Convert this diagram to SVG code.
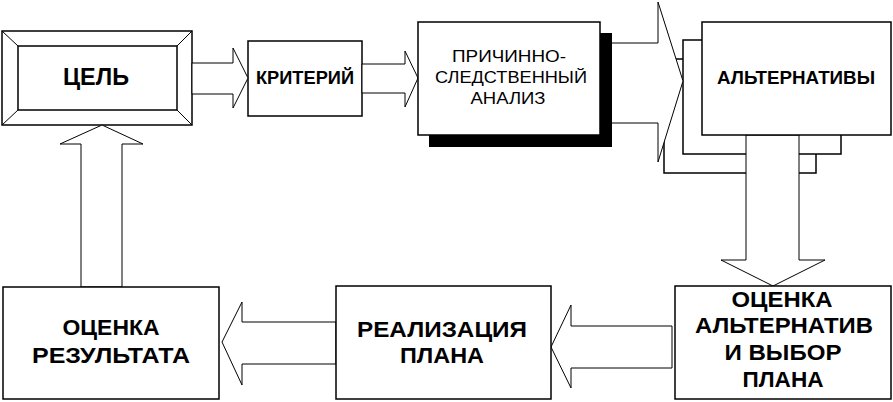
<svg xmlns="http://www.w3.org/2000/svg" width="893" height="402" viewBox="0 0 893 402">
<style>
.box{fill:#fff;stroke:#000;stroke-width:1.5}
.arr{fill:#fff;stroke:#000;stroke-width:1}
.ln{fill:none;stroke:#000;stroke-width:1}
text{font-family:"Liberation Sans",Arial,sans-serif;fill:#000;text-anchor:middle}
.b{font-weight:bold}
</style>
<rect width="893" height="402" fill="#fff"/>
<g id="node-cel">
<rect class="box" x="2" y="31" width="190" height="94"/>
<rect class="box" x="18" y="46" width="159" height="64"/>
<path class="ln" d="M2,31L18,46M192,31L177,46M2,125L18,110M192,125L177,110"/>
<text class="b" x="96" y="85" font-size="23" textLength="66" lengthAdjust="spacingAndGlyphs">ЦЕЛЬ</text>
</g>
<g id="node-kriteriy">
<rect class="box" x="248" y="41" width="114" height="75"/>
<text class="b" x="305" y="84" font-size="18" textLength="98" lengthAdjust="spacingAndGlyphs">КРИТЕРИЙ</text>
</g>
<g id="node-alt-stack">
<rect class="box" x="664" y="59" width="152" height="114"/>
<rect class="box" x="683" y="40" width="158" height="114"/>
</g>
<g id="connectors">
<polygon class="arr" points="192,63 233,63 233,48 248,78 233,108 233,94 192,94"/>
<polygon class="arr" points="362,64 405,64 405,51 418,78 405,107 405,93 362,93"/>
<polygon class="arr" points="600,43 658,43 658,2 683,81 658,162 658,123 600,123"/>
<polygon class="arr" points="746,135 746,260 721,260 773,286 825,260 799,260 799,135"/>
<polygon class="arr" points="672,326 571,326 571,305 551,347 571,388 571,368 672,368"/>
<polygon class="arr" points="336,322 242,322 242,302 222,342 242,385 242,364 336,364"/>
<polygon class="arr" points="81,287 81,144 60,144 102,125 143,144 122,144 122,287"/>
</g>
<g id="node-prichinno">
<rect x="429" y="33" width="183" height="114" fill="#000"/>
<rect class="box" x="418" y="22" width="182" height="113"/>
<text x="509" y="62" font-size="17" textLength="114" lengthAdjust="spacingAndGlyphs">ПРИЧИННО-</text>
<text x="511" y="83" font-size="17" textLength="152" lengthAdjust="spacingAndGlyphs">СЛЕДСТВЕННЫЙ</text>
<text x="508" y="104" font-size="17" textLength="75" lengthAdjust="spacingAndGlyphs">АНАЛИЗ</text>
</g>
<g id="node-alternativy">
<rect class="box" x="702" y="22" width="189" height="113"/>
<text class="b" x="796" y="84" font-size="18" textLength="158" lengthAdjust="spacingAndGlyphs">АЛЬТЕРНАТИВЫ</text>
</g>
<g id="node-ocenka-alt">
<rect class="box" x="675" y="286" width="216" height="113"/>
<text class="b" x="782" y="307" font-size="22" textLength="101" lengthAdjust="spacingAndGlyphs">ОЦЕНКА</text>
<text class="b" x="784" y="333" font-size="22" textLength="178" lengthAdjust="spacingAndGlyphs">АЛЬТЕРНАТИВ</text>
<text class="b" x="783" y="360" font-size="22" textLength="117" lengthAdjust="spacingAndGlyphs">И ВЫБОР</text>
<text class="b" x="783" y="387" font-size="22" textLength="81" lengthAdjust="spacingAndGlyphs">ПЛАНА</text>
</g>
<g id="node-realizaciya">
<rect class="box" x="336" y="286" width="215" height="113"/>
<text class="b" x="442" y="337" font-size="22" textLength="170" lengthAdjust="spacingAndGlyphs">РЕАЛИЗАЦИЯ</text>
<text class="b" x="442" y="363" font-size="22" textLength="84" lengthAdjust="spacingAndGlyphs">ПЛАНА</text>
</g>
<g id="node-ocenka-rez">
<rect class="box" x="3" y="287" width="216" height="112"/>
<text class="b" x="111" y="335" font-size="22" textLength="97" lengthAdjust="spacingAndGlyphs">ОЦЕНКА</text>
<text class="b" x="111" y="363" font-size="22" textLength="158" lengthAdjust="spacingAndGlyphs">РЕЗУЛЬТАТА</text>
</g>
</svg>
